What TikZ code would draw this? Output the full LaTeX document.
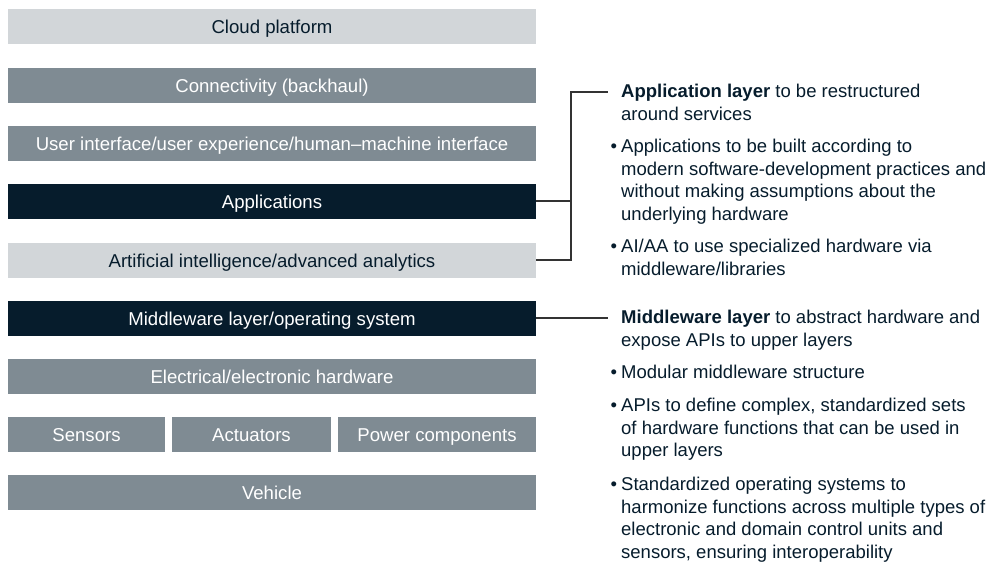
\documentclass[tikz,border=0pt]{standalone}
\usepackage{fontspec}
\setmainfont{Liberation Sans}
\usetikzlibrary{positioning}
\definecolor{navy}{HTML}{061C2C}
\definecolor{greymid}{HTML}{7F8B93}
\definecolor{greylt}{HTML}{D2D6D9}
\definecolor{linegrey}{HTML}{333333}
\tikzstyle{barlt} = [fill=greylt, text=navy, minimum height=35pt, inner sep=0pt, text height=14pt, text depth=0pt, font=\fontsize{18.6}{20}\selectfont]
\tikzstyle{barmid} = [fill=greymid, text=white, minimum height=35pt, inner sep=0pt, text height=14pt, text depth=0pt, font=\fontsize{18.6}{20}\selectfont]
\tikzstyle{bardk} = [fill=navy, text=white, minimum height=35pt, inner sep=0pt, text height=14pt, text depth=0pt, font=\fontsize{18.6}{20}\selectfont]
\tikzstyle{note} = [anchor=north west, align=left, inner sep=0pt, text=navy, font=\fontsize{18.5}{22.5}\selectfont]
\tikzstyle{conn} = [style={line width=1.2pt, linegrey}]
\newcommand{\itembullet}{\llap{\textbullet\hspace{4pt}}}

\begin{document}
\begin{tikzpicture}[x=1pt, y=-1pt]
	\useasboundingbox (0,0) rectangle (995,565);
	% layer stack
	\node[barlt, minimum width=528pt] (cloud) at (272,26) {Cloud platform};
	\node[barmid, minimum width=528pt] (backhaul) at (272,85) {Connectivity (backhaul)};
	\node[barmid, minimum width=528pt] (ux) at (272,143) {User interface/user experience/human--machine interface};
	\node[bardk, minimum width=528pt] (apps) at (272,201) {Applications};
	\node[barlt, minimum width=528pt] (aiaa) at (272,260) {Artificial intelligence/advanced analytics};
	\node[bardk, minimum width=528pt] (mw) at (272,318) {Middleware layer/operating system};
	\node[barmid, minimum width=528pt] (hw) at (272,376) {Electrical/electronic hardware};
	\node[barmid, minimum width=157pt] (sensors) at (86.5,434) {Sensors};
	\node[barmid, minimum width=159pt] (actuators) at (251.5,434) {Actuators};
	\node[barmid, minimum width=198pt] (power) at (437,434) {Power components};
	\node[barmid, minimum width=528pt] (vehicle) at (272,492) {Vehicle};
	% notes
	\node[note] (appnote) at (621,84) {\textbf{Application layer} to be restructured\\around services};
	\node[note] (appb1) at (621,139) {\itembullet Applications to be built according to\\modern software-development practices and\\without making assumptions about the\\underlying hardware};
	\node[note] (appb2) at (621,239) {\itembullet AI/AA to use specialized hardware via\\middleware/libraries};
	\node[note] (mwnote) at (621,310) {\textbf{Middleware layer} to abstract hardware and\\expose APIs to upper layers};
	\node[note] (mwb1) at (621,365) {\itembullet Modular middleware structure};
	\node[note] (mwb2) at (621,398) {\itembullet APIs to define complex, standardized sets\\of hardware functions that can be used in\\upper layers};
	\node[note] (mwb3) at (621,477) {\itembullet Standardized operating systems to\\harmonize functions across multiple types of\\electronic and domain control units and\\sensors, ensuring interoperability};
	% connectors
	\coordinate (jtop) at (571,92);
	\coordinate (jend) at (608,92);
	\coordinate (mwend) at (608,318);
	\draw[conn] (aiaa.east) -| (jtop) -- (jend);
	\draw[conn] (apps.east) -- (apps.east -| jtop);
	\draw[conn] (mw.east) -- (mwend);
\end{tikzpicture}
\end{document}
